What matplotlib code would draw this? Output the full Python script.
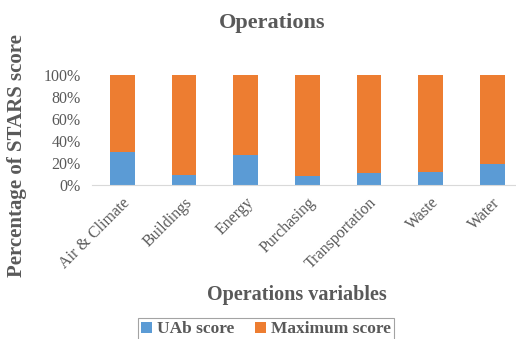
import numpy as np
import matplotlib
matplotlib.use('Agg')
import matplotlib.pyplot as plt
from matplotlib.ticker import PercentFormatter

categories = ['Air & Climate', 'Buildings', 'Energy', 'Purchasing',
              'Transportation', 'Waste', 'Water']
uab_score = [30, 9, 27, 8.5, 10.5, 12, 19]
max_score = [100 - v for v in uab_score]

plt.rcParams['font.family'] = ['Liberation Serif', 'DejaVu Serif']
text_color = '#595959'

fig = plt.figure(figsize=(5.16, 3.39), dpi=100)
ax = fig.add_axes([92 / 516, 1 - 185 / 339, 423 / 516, 110 / 339])

x = np.arange(len(categories))
ax.bar(x, uab_score, width=0.4, color='#5B9BD5', label='UAb score')
ax.bar(x, max_score, width=0.4, bottom=uab_score, color='#ED7D31', label='Maximum score')

ax.set_xlim(-0.49, 6.37)
ax.set_ylim(0, 100)
ax.set_yticks(np.arange(0, 101, 20))
ax.yaxis.set_major_formatter(PercentFormatter(decimals=0))
ax.set_xticks(x)
ax.set_xticklabels(categories, rotation=45, ha='right', rotation_mode='anchor')
ax.tick_params(axis='both', length=0, labelsize=11.5, colors=text_color)
ax.tick_params(axis='x', pad=7)
ax.tick_params(axis='y', pad=8)

for s in ['top', 'right', 'left']:
    ax.spines[s].set_visible(False)
ax.spines['bottom'].set_color('#D9D9D9')

fig.text(272 / 516, 1 - 23 / 339, 'Operations', ha='center', va='center',
         fontsize=16, fontweight='bold', color=text_color)
fig.text(17 / 516, 1 - 156 / 339, 'Percentage of STARS score', ha='center', va='center',
         rotation=90, fontsize=15, fontweight='bold', color=text_color)
fig.text(297 / 516, 1 - 295 / 339, 'Operations variables', ha='center', va='center',
         fontsize=14.5, fontweight='bold', color=text_color)

leg = fig.legend(loc='upper center', bbox_to_anchor=(266 / 516, 1 - 318 / 339), ncol=2,
                 frameon=True, fancybox=False, handlelength=0.6, handleheight=0.6,
                 handletextpad=0.3, columnspacing=1.2, borderpad=0.2, borderaxespad=0,
                 prop={'weight': 'bold', 'size': 12.5})
leg.get_frame().set_edgecolor('#8C8C8C')
leg.get_frame().set_linewidth(0.8)
for t in leg.get_texts():
    t.set_color(text_color)

fig.savefig('out.png', dpi=100)
